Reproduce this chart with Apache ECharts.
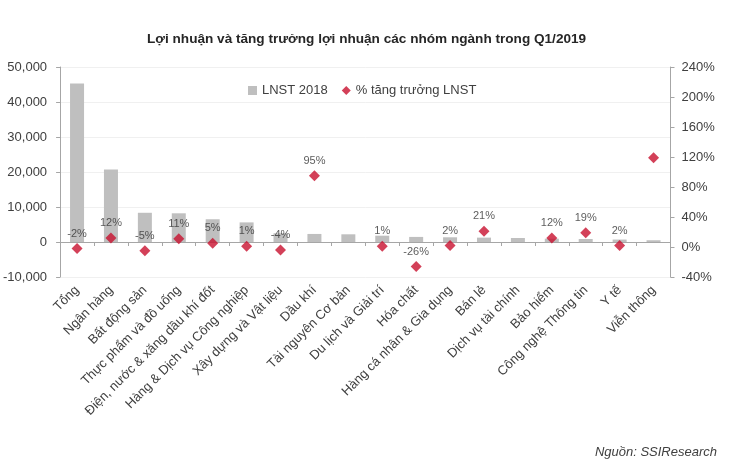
<!DOCTYPE html>
<html>
<head>
<meta charset="utf-8">
<script src="https://cdn.jsdelivr.net/npm/echarts@6/dist/echarts.min.js"></script>
<style>
  html, body { margin: 0; padding: 0; background: #fff; }
  #chart { width: 737px; height: 467px; }
</style>
</head>
<body>
<div id="chart"></div>
<script>
// nhóm ngành
var categories = ['Tổng', 'Ngân hàng', 'Bất động sản', 'Thực phẩm và đồ uống',
  'Điện, nước & xăng dầu khí đốt', 'Hàng & Dịch vụ Công nghiệp', 'Xây dựng và Vật liệu',
  'Dầu khí', 'Tài nguyên Cơ bản', 'Du lịch và Giải trí', 'Hóa chất',
  'Hàng cá nhân & Gia dụng', 'Bán lẻ', 'Dịch vụ tài chính', 'Bảo hiểm',
  'Công nghệ Thông tin', 'Y tế', 'Viễn thông'];
// LNST 2018 (tỷ đồng)
var profit2018 = [45300, 20700, 8350, 8200, 6500, 5600, 2500, 2300, 2200, 1800,
  1450, 1350, 1250, 1150, 950, 850, 700, 500];
// % tăng trưởng LNST
var growth = [-2, 12, -5, 11, 5, 1, -4, 95, null, 1, -26, 2, 21, null, 12, 19, 2, 119];
var growthLabels = ['-2%', '12%', '-5%', '11%', '5%', '1%', '-4%', '95%', '', '1%',
  '-26%', '2%', '21%', '', '12%', '19%', '2%', ''];

var textColor = '#404040';
var font = 'Liberation Sans, Arial, sans-serif';

var chartDom = document.getElementById('chart');
var myChart = echarts.init(chartDom);
var option;
option = {
  animation: false,
  textStyle: { fontFamily: font },
  title: {
    text: 'Lợi nhuận và tăng trưởng lợi nhuận các nhóm ngành trong Q1/2019',
    left: 142,
    top: 27,
    textStyle: { fontSize: 13.6, fontWeight: 'bold', color: '#262626', fontFamily: font }
  },
  legend: {
    left: 243,
    top: 79,
    itemWidth: 9,
    itemHeight: 9,
    itemGap: 14,
    textStyle: { fontSize: 13, color: textColor, fontFamily: font },
    data: [
      { name: 'LNST 2018', icon: 'rect' },
      { name: '% tăng trưởng LNST', icon: 'diamond' }
    ]
  },
  grid: { left: 57.5, right: 66.5, top: 67, bottom: 190, containLabel: false },
  xAxis: [{
    type: 'category',
    data: categories,
    position: 'bottom',
    axisLine: { show: false, onZero: false },
    axisTick: { show: false },
    axisLabel: {
      interval: 0, // hiện tất cả nhãn
      rotate: 45,
      margin: 11,
      fontSize: 13,
      color: textColor,
      fontFamily: font
    }
  }, {
    type: 'category',
    data: categories,
    position: 'bottom',
    axisLine: { show: true, onZero: true, onZeroAxisIndex: 0, lineStyle: { color: '#a6a6a6', width: 1 } },
    axisTick: { show: true, interval: 0, length: 4, lineStyle: { color: '#a6a6a6' } },
    axisLabel: { show: false, interval: 0 }
  }],
  yAxis: [{
    type: 'value',
    min: -10000,
    max: 50000,
    interval: 10000,
    axisLine: { show: true, lineStyle: { color: '#a6a6a6' } },
    axisTick: { show: true, length: 4, lineStyle: { color: '#a6a6a6' } },
    axisLabel: {
      margin: 13,
      fontSize: 13,
      color: textColor,
      fontFamily: font,
      formatter: function (v) { return v.toLocaleString('en-US'); }
    },
    splitLine: { show: true, lineStyle: { color: '#f0f0f0' } }
  }, {
    type: 'value',
    min: -40,
    max: 240,
    interval: 40,
    position: 'right',
    axisLine: { show: true, lineStyle: { color: '#a6a6a6' } },
    axisTick: { show: true, length: 4, lineStyle: { color: '#a6a6a6' } },
    axisLabel: {
      margin: 11,
      fontSize: 13,
      color: textColor,
      fontFamily: font,
      formatter: '{value}%'
    },
    splitLine: { show: false }
  }],
  series: [{
    name: 'LNST 2018',
    type: 'bar',
    xAxisIndex: 0,
    yAxisIndex: 0,
    barWidth: 14,
    itemStyle: { color: '#bfbfbf' },
    data: profit2018
  }, {
    name: '% tăng trưởng LNST',
    type: 'scatter',
    xAxisIndex: 0,
    yAxisIndex: 1,
    symbol: 'diamond',
    symbolSize: 11,
    itemStyle: { color: '#c8102e' },
    label: {
      show: true,
      position: 'top',
      distance: 4,
      fontSize: 11,
      color: '#333333',
      fontFamily: font,
      formatter: function (params) {
        return growthLabels[params.dataIndex];
      }
    },
    data: growth
  }],
  graphic: [{
    type: 'text',
    right: 20,
    top: 446,
    style: {
      text: 'Nguồn: SSIResearch',
      fontSize: 13,
      fontStyle: 'italic',
      fill: textColor,
      fontFamily: font
    }
  }]
};
myChart.setOption(option);
</script>
</body>
</html>
